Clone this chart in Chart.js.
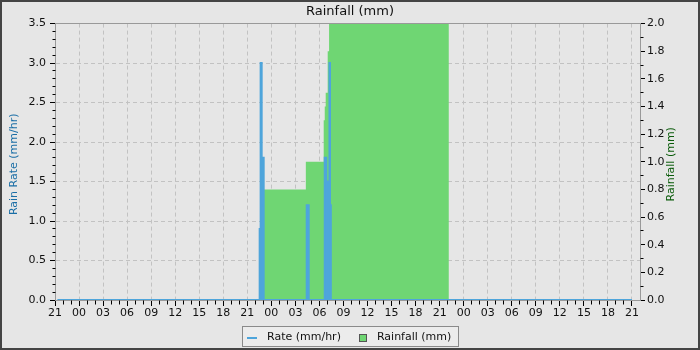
<!DOCTYPE html>
<html>
<head>
<meta charset="utf-8">
<title>Rainfall (mm)</title>
<script src="https://cdn.jsdelivr.net/npm/chart.js@4/dist/chart.umd.min.js"></script>
<style>
    html, body { margin: 0; padding: 0; background: #e6e6e6; }
    #wrap { width: 700px; height: 350px; }
</style>
</head>
<body>
<div id="wrap"><canvas id="rainChart" width="700" height="350"></canvas></div>
<script>
// x values are hours since 21:00 on the first day shown
const xTickLabels = ['21', '00', '03', '06', '09', '12', '15', '18',
                     '21', '00', '03', '06', '09', '12', '15', '18',
                     '21', '00', '03', '06', '09', '12', '15', '18', '21'];
const xMaxHours = 73;

// rain rate (mm/hr), each value holds until the next time
const rateHours  = [0.3, 25.54, 25.66, 25.79, 26.04, 31.41, 31.66, 33.66, 33.85, 34.25, 34.32, 34.42, 72];
const rateValues = [0,   0.9,   3.0,   1.8,   0,     1.2,   0,     1.8,   1.5,   3.0,   1.2,   0,     0];

// rainfall (mm), same step rule
const rainHours  = [0,  26.04, 31.3, 33.53, 33.66, 33.78, 34.03, 34.2, 49.15];
const rainValues = [0,  0.8,   1.0,  1.3,   1.4,   1.5,   1.8,   2.2,  0];

const BG = '#e6e6e6';
const RATE_COLOR = '#4ea5db';
const RAIN_COLOR = '#6fd673';
const GRID_COLOR = '#c2c2c2';
const AXIS_COLOR = '#999999';
const FONT = '"DejaVu Sans", "Liberation Sans", sans-serif';

Chart.defaults.font.family = FONT;
Chart.defaults.font.size = 11;
Chart.defaults.color = '#111';

function alignPx(p) {
    return Math.round(p - 0.5) + 0.5;
}

const framePlugin = {
    id: 'frame',
    beforeDraw(chart) {
        const ctx = chart.ctx;
        ctx.save();
        ctx.fillStyle = BG;
        ctx.fillRect(0, 0, chart.width, chart.height);
        ctx.restore();
    },
    afterDraw(chart) {
        const ctx = chart.ctx;
        const a = chart.chartArea;
        const xs = chart.scales.x, ys = chart.scales.y, ys1 = chart.scales.y1;
        const top = alignPx(a.top), bottom = alignPx(a.bottom);
        const left = alignPx(a.left), right = alignPx(a.right);
        ctx.save();

        // top edge of the plot
        ctx.lineWidth = 1;
        ctx.strokeStyle = AXIS_COLOR;
        ctx.beginPath();
        ctx.moveTo(left, top);
        ctx.lineTo(right, top);
        ctx.stroke();

        // minor ticks
        ctx.strokeStyle = '#000';
        ctx.beginPath();
        for (let h = 1; h < xMaxHours; h++) {
            if (h % 3 === 0) continue;
            const px = alignPx(xs.getPixelForValue(h));
            ctx.moveTo(px, bottom);
            ctx.lineTo(px, bottom + 4);
        }
        for (let i = 1; i < 35; i++) {
            if (i % 5 === 0) continue;
            const py = alignPx(ys.getPixelForValue(i / 10));
            ctx.moveTo(left - 3, py);
            ctx.lineTo(left, py);
        }
        for (let i = 1; i < 20; i += 2) {
            const py = alignPx(ys1.getPixelForValue(i / 10));
            ctx.moveTo(right, py);
            ctx.lineTo(right + 3, py);
        }
        ctx.stroke();

        // axis titles, both read bottom to top
        const mid = (a.top + a.bottom) / 2 + 2.5;
        ctx.font = '11px ' + FONT;
        ctx.textAlign = 'center';
        ctx.textBaseline = 'middle';
        ctx.save();
        ctx.translate(14.5, mid);
        ctx.rotate(-Math.PI / 2);
        ctx.fillStyle = '#1a6ea6';
        ctx.fillText('Rain Rate (mm/hr)', 0, 0);
        ctx.restore();
        ctx.save();
        ctx.translate(a.right + 31, mid);
        ctx.rotate(-Math.PI / 2);
        ctx.fillStyle = '#0b5c0b';
        ctx.fillText('Rainfall (mm)', 0, 0);
        ctx.restore();

        // legend
        const rateDs = chart.data.datasets[0];
        const rainDs = chart.data.datasets[1];
        const w1 = ctx.measureText(rateDs.label).width;
        const w2 = ctx.measureText(rainDs.label).width;
        const boxW = Math.round(5 + 10 + 10 + w1 + 18 + 7 + 11 + w2 + 7);
        const bx = Math.round(chart.width / 2 - boxW / 2) + 0.5;
        const by = 326.5, bh = 20;
        const cy = by + bh / 2 + 0.5;
        ctx.fillStyle = '#ececec';
        ctx.fillRect(bx, by, boxW, bh);
        ctx.strokeStyle = '#8a8a8a';
        ctx.strokeRect(bx, by, boxW, bh);

        let cx = bx + 4.5;
        ctx.fillStyle = rateDs.borderColor;
        ctx.fillRect(cx, cy, 10, 2);
        cx += 20;
        ctx.fillStyle = '#111';
        ctx.textAlign = 'left';
        ctx.fillText(rateDs.label, cx, cy);
        cx += w1 + 18;
        ctx.fillStyle = rainDs.backgroundColor;
        ctx.fillRect(Math.round(cx), Math.round(cy - 3.5), 7, 7);
        ctx.strokeStyle = '#555';
        ctx.strokeRect(Math.round(cx) + 0.5, Math.round(cy - 3.5) + 0.5, 7, 7);
        cx += 18;
        ctx.fillStyle = '#111';
        ctx.fillText(rainDs.label, cx, cy);

        // outer frame
        ctx.lineWidth = 2;
        ctx.strokeStyle = '#444';
        ctx.strokeRect(1, 1, chart.width - 2, chart.height - 2);
        ctx.restore();
    }
};

const ratePoints = rateHours.map((h, i) => ({ x: h, y: rateValues[i] }));
const rainPoints = rainHours.map((h, i) => ({ x: h, y: rainValues[i] }));

const ctx = document.getElementById('rainChart').getContext('2d');
const rainChart = new Chart(ctx, {
    type: 'line',
    data: {
        datasets: [
            {
                label: 'Rate (mm/hr)',
                data: ratePoints,
                yAxisID: 'y',
                stepped: true,
                borderColor: RATE_COLOR,
                backgroundColor: RATE_COLOR,
                borderWidth: 2,
                fill: 'origin',
                pointRadius: 0
            },
            {
                label: 'Rainfall (mm)',
                data: rainPoints,
                yAxisID: 'y1',
                stepped: true,
                borderColor: RAIN_COLOR,
                backgroundColor: RAIN_COLOR,
                borderWidth: 0,
                fill: 'origin',
                pointRadius: 0
            }
        ]
    },
    options: {
        responsive: false,
        devicePixelRatio: 1,
        animation: false,
        events: [],
        layout: { padding: 0 },
        plugins: {
            legend: { display: false },
            tooltip: { enabled: false },
            title: {
                display: true,
                text: 'Rainfall (mm)',
                color: '#111',
                font: { size: 13, weight: 'normal' },
                padding: { top: 4, bottom: 4 }
            }
        },
        scales: {
            x: {
                type: 'linear',
                min: 0,
                max: xMaxHours,
                afterFit: function(scale) { scale.height = 50; },
                afterBuildTicks: function(scale) {
                    scale.ticks = xTickLabels.map((_, i) => ({ value: i * 3 }));
                },
                ticks: {
                    autoSkip: false,
                    maxRotation: 0,
                    padding: 1,
                    callback: function(value, index) { return xTickLabels[index]; }
                },
                grid: { color: GRID_COLOR, tickColor: '#000', tickLength: 6 },
                border: { color: AXIS_COLOR, dash: [4, 3] }
            },
            y: {
                position: 'left',
                min: 0,
                max: 3.5,
                afterFit: function(scale) { scale.width = 55; },
                ticks: {
                    stepSize: 0.5,
                    padding: 4,
                    callback: function(value) { return value.toFixed(1); }
                },
                grid: { color: GRID_COLOR, tickColor: '#000', tickLength: 5 },
                border: { color: AXIS_COLOR, dash: [4, 3] }
            },
            y1: {
                position: 'right',
                min: 0,
                max: 2,
                afterFit: function(scale) { scale.width = 60; },
                ticks: {
                    stepSize: 0.2,
                    padding: 2,
                    callback: function(value) { return value.toFixed(1); }
                },
                grid: { drawOnChartArea: false, tickColor: '#000', tickLength: 5 },
                border: { color: AXIS_COLOR }
            }
        }
    },
    plugins: [framePlugin]
});
</script>
</body>
</html>
